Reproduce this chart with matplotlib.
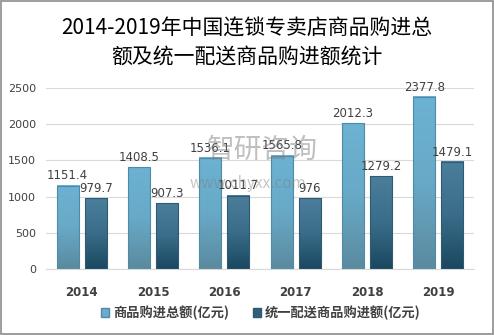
import numpy as np
import matplotlib.pyplot as plt
from matplotlib.patches import Rectangle
from matplotlib.colors import LinearSegmentedColormap

plt.rcParams['font.family'] = ['Noto Sans CJK SC', 'DejaVu Sans']

years = ["2014", "2015", "2016", "2017", "2018", "2019"]
total_purchase = [1151.4, 1408.5, 1536.1, 1565.8, 2012.3, 2377.8]
unified_purchase = [979.7, 907.3, 1011.7, 976, 1279.2, 1479.1]
total_labels = ["1151.4", "1408.5", "1536.1", "1565.8", "2012.3", "2377.8"]
unified_labels = ["979.7", "907.3", "1011.7", "976", "1279.2", "1479.1"]
series_names = ["商品购进总额(亿元)", "统一配送商品购进额(亿元)"]

TEXT = "#404040"
light_cmap = LinearSegmentedColormap.from_list("light", ["#5a8b9f", "#68a9c7", "#6cb2d2"])
dark_cmap = LinearSegmentedColormap.from_list("dark", ["#1a4860", "#3a6d8a", "#4a7e9b"])
light_edge = "#4f8aa6"
dark_edge = "#2e5a72"

fig = plt.figure(figsize=(4.94, 3.35), dpi=100)
ax = fig.add_axes([46 / 494, 66 / 335, 428 / 494, 181 / 335])

x = np.arange(len(years))
width = 0.31
offset = 0.196
grad = np.linspace(0, 1, 64).reshape(-1, 1)


def gradient_bar(xc, h, cmap, edge):
    x0, x1 = xc - width / 2, xc + width / 2
    ax.imshow(grad, extent=(x0, x1, 0, h), origin='lower', cmap=cmap,
              aspect='auto', zorder=2)
    ax.add_patch(Rectangle((x0, 0), width, h, fill=False, edgecolor=edge,
                           linewidth=0.8, zorder=3))


for i in range(len(years)):
    gradient_bar(x[i] - offset, total_purchase[i], light_cmap, light_edge)
    gradient_bar(x[i] + offset, unified_purchase[i], dark_cmap, dark_edge)
    ax.text(x[i] - offset, total_purchase[i] + 45, total_labels[i], ha='center',
            va='bottom', fontsize=8.5, color=TEXT, family='DejaVu Sans', zorder=5)
    ax.text(x[i] + offset, unified_purchase[i] + 45, unified_labels[i], ha='center',
            va='bottom', fontsize=8.5, color=TEXT, family='DejaVu Sans', zorder=5)

ax.set_xlim(-0.5, len(years) - 0.5)
ax.set_ylim(0, 2500)
ax.set_yticks(np.arange(0, 2501, 500))
ax.set_xticks(x)
ax.set_xticklabels(years, fontweight='bold', fontsize=8.5, color=TEXT, family='DejaVu Sans')
for lbl in ax.get_yticklabels():
    lbl.set_fontsize(8)
    lbl.set_color(TEXT)
    lbl.set_family('DejaVu Sans')
ax.tick_params(axis='y', length=0, pad=7)
ax.tick_params(axis='x', length=0, pad=12)
ax.grid(axis='y', color='#d9d9d9', linewidth=0.8, zorder=0)
ax.set_axisbelow(True)
for side in ['top', 'right', 'left']:
    ax.spines[side].set_visible(False)
ax.spines['bottom'].set_color('#d9d9d9')

# watermark
fig.text(262 / 494, 1 - 150 / 335, "智研咨询", ha='center', va='center', fontsize=20,
         color='#808080', alpha=0.5, zorder=10)
fig.text(248 / 494, 1 - 183 / 335, "www.chyxx.com", ha='center', va='center', fontsize=11,
         color='#808080', alpha=0.45, zorder=10)

# title
fig.text(0.5, 1 - 29 / 335, "2014-2019年中国连锁专卖店商品购进总", ha='center', va='center',
         fontsize=15, color='black')
fig.text(0.5, 1 - 57 / 335, "额及统一配送商品购进额统计", ha='center', va='center',
         fontsize=15, color='black')

# legend
handles = [Rectangle((0, 0), 1, 1, facecolor="#6aaccb", edgecolor=light_edge),
           Rectangle((0, 0), 1, 1, facecolor="#2f5f7a", edgecolor=dark_edge)]
fig.legend(handles, series_names, loc='center', bbox_to_anchor=(261 / 494, 1 - 313 / 335),
           ncol=2, frameon=False, handlelength=0.6, handleheight=0.6,
           handletextpad=0.3, columnspacing=1.8,
           prop={'size': 9.5, 'weight': 'bold'}, labelcolor=TEXT)

# outer frame
fig.patches.append(Rectangle((0.003, 0.004), 0.994, 0.992, transform=fig.transFigure,
                             fill=False, edgecolor='#8c8c8c', linewidth=1.2))

fig.savefig("out.png", dpi=100)
